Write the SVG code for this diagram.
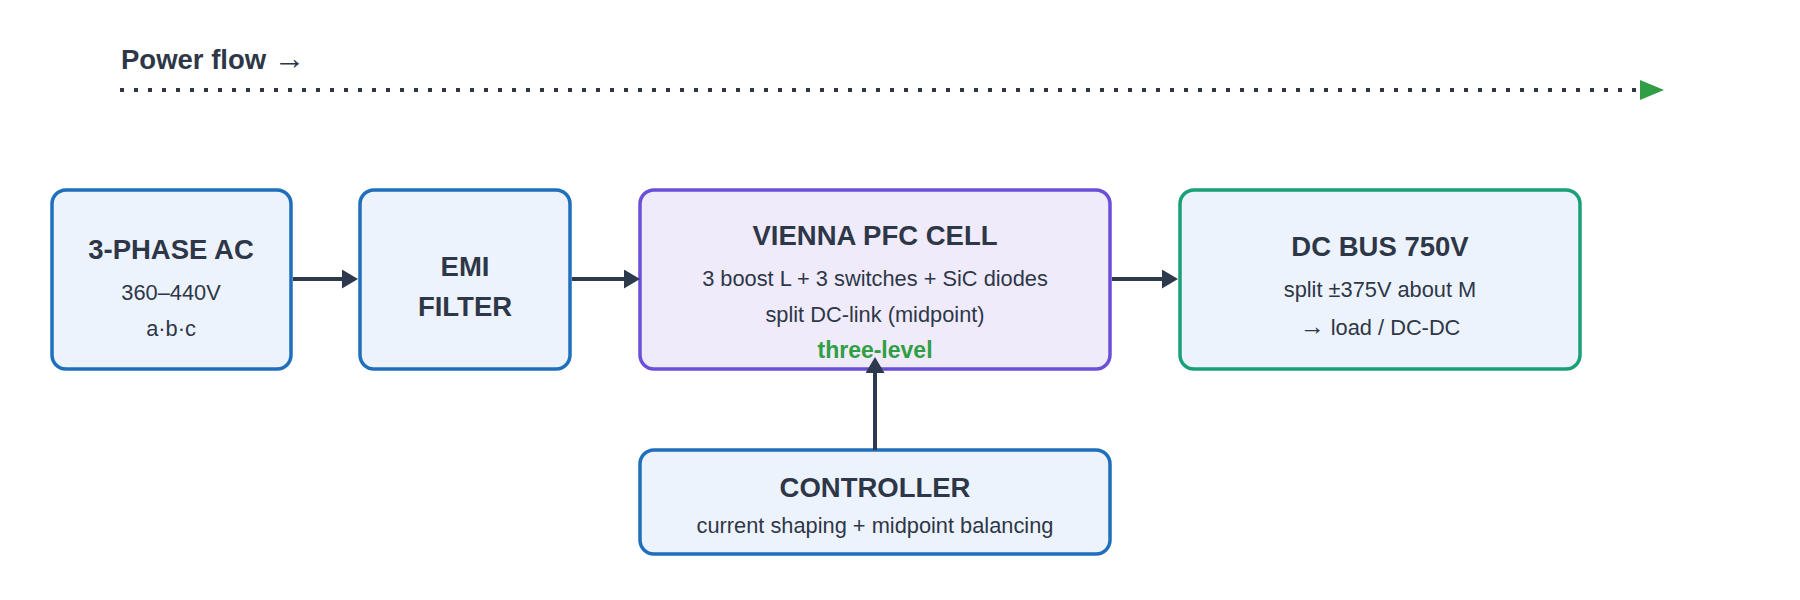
<svg xmlns="http://www.w3.org/2000/svg" width="1800" height="600" viewBox="0 0 1800 600">
  <defs>
    <marker id="arr" markerUnits="userSpaceOnUse" markerWidth="17" markerHeight="20" refX="0" refY="9.5" orient="auto">
      <path d="M0,0 L16,9.5 L0,19 Z" fill="#2d3a4e"/>
    </marker>
    <style>
      text { font-family: "Liberation Sans", Arial, sans-serif; fill: #2d3748; text-anchor: middle; }
      .t { font-size: 27.5px; font-weight: bold; }
      .s { font-size: 21.8px; }
      .acc { font-size: 23px; font-weight: bold; fill: #2f9e44; }
      .ar { font-weight: normal; font-size: 1.15em; }
      .blue { fill: #edf3fc; stroke: #1f6fbd; stroke-width: 3.5; }
      .purple { fill: #f0ebfb; stroke: #6c4fd9; stroke-width: 3.5; }
      .green { fill: #edf3fc; stroke: #19a077; stroke-width: 3.5; }
      .conn { stroke: #2d3a4e; stroke-width: 4; fill: none; marker-end: url(#arr); }
    </style>
  </defs>
  <rect width="1800" height="600" fill="#ffffff"/>

  <g id="flow">
    <text x="121" y="69" class="t" style="text-anchor:start">Power flow <tspan class="ar">→</tspan></text>
    <line x1="120" y1="90" x2="1638" y2="90" stroke="#2d3748" stroke-width="4" stroke-dasharray="4 10"/>
    <polygon points="1640,80 1664,90 1640,100" fill="#2f9e44"/>
  </g>

  <g id="ac">
    <rect x="52" y="190" width="239" height="179" rx="14" class="blue"/>
    <text x="171" y="259" class="t">3-PHASE AC</text>
    <text x="171" y="300" class="s">360–440V</text>
    <text x="171" y="336" class="s">a·b·c</text>
  </g>

  <g id="emi">
    <rect x="360" y="190" width="210" height="179" rx="14" class="blue"/>
    <text x="465" y="276" class="t">EMI</text>
    <text x="465" y="316" class="t">FILTER</text>
  </g>

  <g id="vienna">
    <rect x="640" y="190" width="470" height="179" rx="14" class="purple"/>
    <text x="875" y="245" class="t">VIENNA PFC CELL</text>
    <text x="875" y="286" class="s">3 boost L + 3 switches + SiC diodes</text>
    <text x="875" y="322" class="s">split DC-link (midpoint)</text>
    <text x="875" y="358" class="acc">three-level</text>
  </g>

  <g id="dcbus">
    <rect x="1180" y="190" width="400" height="179" rx="14" class="green"/>
    <text x="1380" y="256" class="t">DC BUS 750V</text>
    <text x="1380" y="297" class="s">split ±375V about M</text>
    <text x="1380" y="335" class="s"><tspan class="ar">→</tspan> load / DC-DC</text>
  </g>

  <g id="controller">
    <rect x="640" y="450" width="470" height="104" rx="14" class="blue"/>
    <text x="875" y="497" class="t">CONTROLLER</text>
    <text x="875" y="533" class="s">current shaping + midpoint balancing</text>
  </g>

  <g id="connectors">
    <line x1="293" y1="279" x2="342" y2="279" class="conn"/>
    <line x1="572" y1="279" x2="624" y2="279" class="conn"/>
    <line x1="1112" y1="279" x2="1162" y2="279" class="conn"/>
    <line x1="875" y1="450" x2="875" y2="373" class="conn"/>
  </g>
</svg>
